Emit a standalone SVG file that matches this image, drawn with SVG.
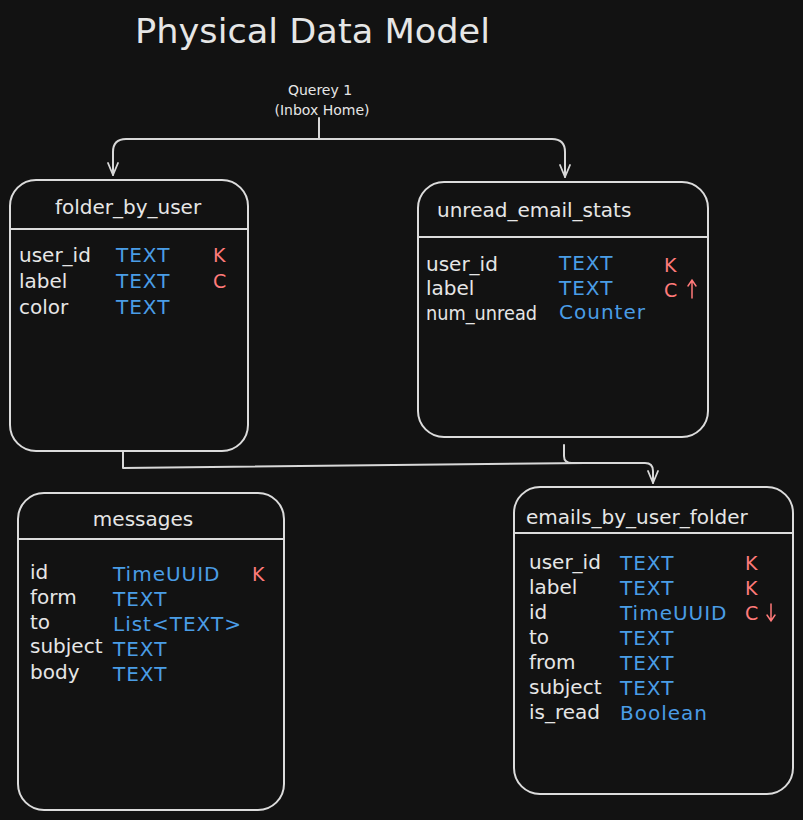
<svg xmlns="http://www.w3.org/2000/svg" width="803" height="820" viewBox="0 0 803 820">
<defs>
<marker id="arr" viewBox="0 0 14 14" markerWidth="14" markerHeight="14" refX="13" refY="7" orient="auto" markerUnits="userSpaceOnUse">
<path d="M1,2 L13,7 L1,12" fill="none" stroke="#d8d8d8" stroke-width="1.8" stroke-linecap="round" stroke-linejoin="round"/>
</marker>
<style>
.box{fill:none;stroke:#dcdcdc;stroke-width:2}
.div{stroke:#dcdcdc;stroke-width:2}
.ttl{font-family:"DejaVu Sans",Verdana,sans-serif;font-size:20px;fill:#e6e6e6}
.f{font-family:"DejaVu Sans",Verdana,sans-serif;font-size:20px;fill:#e6e6e6}
.t{font-family:"DejaVu Sans",Verdana,sans-serif;font-size:20px;fill:#4a9de6;letter-spacing:1px}
.k{font-family:"DejaVu Sans",Verdana,sans-serif;font-size:19px;fill:#ff7a7a}
.con{fill:none;stroke:#d8d8d8;stroke-width:2;stroke-linecap:round;stroke-linejoin:round}
.sm{stroke:#ff7a7a;stroke-width:1.5;fill:none;stroke-linecap:round}
</style>
</defs>
<rect width="803" height="820" fill="#121212"/>
<text x="135" y="43" font-family="DejaVu Sans,Verdana,sans-serif" font-size="34" fill="#e6e6e6" textLength="355" lengthAdjust="spacingAndGlyphs">Physical Data Model</text>
<g id="query">
<text x="320" y="95" text-anchor="middle" font-family="DejaVu Sans,Verdana,sans-serif" font-size="14" fill="#e6e6e6">Querey 1</text>
<text x="322" y="115" text-anchor="middle" font-family="DejaVu Sans,Verdana,sans-serif" font-size="14" fill="#e6e6e6">(Inbox Home)</text>
</g>
<g id="connectors">
<path class="con" d="M319,118 L319,139"/>
<path class="con" d="M319,139 L126,139 Q113,139 113,152 L113,175" marker-end="url(#arr)"/>
<path class="con" d="M319,139 L552,139 Q565,139 565,152 L565,177" marker-end="url(#arr)"/>
<path class="con" d="M123,452 L123,468 L585,463"/>
<path class="con" d="M564,445 L564,456 Q564,463 572,463 L645,463 Q653,463 653,471 L653,483" marker-end="url(#arr)"/>
</g>
<g id="folder_by_user">
<rect class="box" x="10" y="180" width="238" height="271" rx="26"/>
<line class="div" x1="10" y1="229" x2="248" y2="229"/>
<text class="ttl" x="128" y="214" text-anchor="middle">folder_by_user</text>
<text class="f" x="19" y="262">user_id</text><text class="t" x="116" y="262">TEXT</text><text class="k" x="213" y="262">K</text>
<text class="f" x="19" y="288">label</text><text class="t" x="116" y="288">TEXT</text><text class="k" x="213" y="288">C</text>
<text class="f" x="19" y="314">color</text><text class="t" x="116" y="314">TEXT</text>
</g>
<g id="unread_email_stats">
<rect class="box" x="418" y="182" width="290" height="255" rx="26"/>
<line class="div" x1="418" y1="237" x2="708" y2="237"/>
<text class="ttl" x="437" y="217">unread_email_stats</text>
<text class="f" x="426" y="271">user_id</text><text class="t" x="559" y="270">TEXT</text><text class="k" x="664" y="272">K</text>
<text class="f" x="426" y="295">label</text><text class="t" x="559" y="295">TEXT</text><text class="k" x="664" y="297">C</text>
<path class="sm" d="M692,298 L692,280 M688,286 L692,280 L696,286"/>
<text class="f" x="426" y="320" textLength="111" lengthAdjust="spacingAndGlyphs">num_unread</text><text class="t" x="559" y="319">Counter</text>
</g>
<g id="messages">
<rect class="box" x="18" y="493" width="266" height="317" rx="26"/>
<line class="div" x1="18" y1="539" x2="284" y2="539"/>
<text class="ttl" x="143" y="526" text-anchor="middle">messages</text>
<text class="f" x="30" y="579">id</text><text class="t" x="113" y="581">TimeUUID</text><text class="k" x="252" y="581">K</text>
<text class="f" x="30" y="604">form</text><text class="t" x="113" y="606">TEXT</text>
<text class="f" x="30" y="629">to</text><text class="t" x="113" y="631">List&lt;TEXT&gt;</text>
<text class="f" x="30" y="653">subject</text><text class="t" x="113" y="656">TEXT</text>
<text class="f" x="30" y="679">body</text><text class="t" x="113" y="681">TEXT</text>
</g>
<g id="emails_by_user_folder">
<rect class="box" x="514" y="487" width="279" height="307" rx="26"/>
<line class="div" x1="514" y1="533" x2="793" y2="533"/>
<text class="ttl" x="526" y="524">emails_by_user_folder</text>
<text class="f" x="529" y="569">user_id</text><text class="t" x="620" y="570">TEXT</text><text class="k" x="745" y="570">K</text>
<text class="f" x="529" y="594">label</text><text class="t" x="620" y="595">TEXT</text><text class="k" x="745" y="595">K</text>
<text class="f" x="529" y="619">id</text><text class="t" x="620" y="620">TimeUUID</text><text class="k" x="745" y="620">C</text>
<path class="sm" d="M771,604 L771,621 M767,615 L771,621 L775,615"/>
<text class="f" x="529" y="644">to</text><text class="t" x="620" y="645">TEXT</text>
<text class="f" x="529" y="669">from</text><text class="t" x="620" y="670">TEXT</text>
<text class="f" x="529" y="694">subject</text><text class="t" x="620" y="695">TEXT</text>
<text class="f" x="529" y="719">is_read</text><text class="t" x="620" y="720">Boolean</text>
</g>
</svg>
